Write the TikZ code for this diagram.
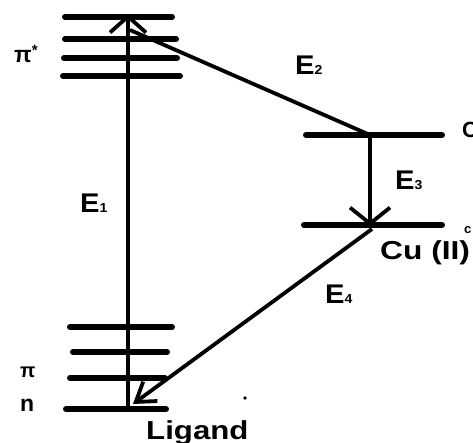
\documentclass[tikz,border=0pt]{standalone}
\usepackage{fontspec}
\setmainfont{Liberation Sans}
\usetikzlibrary{arrows.meta}
\begin{document}
\begin{tikzpicture}[x=1pt,y=-1pt,
  level/.style={line width=6pt,line cap=round},
  trans/.style={line width=3.8pt},
  lbl/.style={inner sep=0pt,anchor=base west,font=\bfseries},
  bigbarb/.style={-{Straight Barb[length=16pt,width=36pt]}},
  smallbarb/.style={-{Straight Barb[length=18pt,width=24pt]}}]
\useasboundingbox (0,0) rectangle (473,443);
\clip (0,0) rectangle (473,443);

% ligand pi* levels
\draw[level] (65,17) -- (172,17);
\draw[level] (65,39) -- (176,39);
\draw[level] (64,58) -- (177,58);
\draw[level] (63,76) -- (180,76);

% ligand pi and n levels
\draw[level] (70,327) -- (172,327);
\draw[level] (73,352) -- (167,352);
\draw[level] (70,378) -- (165,378);
\draw[level] (66,409) -- (166,409);

% Cu(II) levels
\draw[level] (306,135) -- (442,135);
\draw[level] (304,225) -- (442,225);

% anchor points on the levels
\coordinate (nbot) at (128,409);
\coordinate (pitop) at (128,14);
\coordinate (pistart) at (130,30);
\coordinate (cuup) at (370,135);
\coordinate (cudown) at (370,226);
\coordinate (cudownL) at (372,229);
\coordinate (ntip) at (133,404);

% transitions
\draw[trans,bigbarb] (nbot) -- (pitop);
\draw[trans] (pistart) -- (cuup);
\draw[trans,-{Straight Barb[length=16pt,width=40pt]}] (cuup) -- (cudown);
\draw[trans,smallbarb] (cudownL) -- (ntip);

% labels
\node[lbl] (lpistar) at (14,63) {\fontsize{23}{23}\selectfont π\raisebox{7pt}{\fontsize{15}{15}\selectfont *}};
\node[lbl] (lpi) at (20,377) {\fontsize{20}{20}\selectfont π};
\node[lbl] (ln) at (20,411) {\fontsize{23}{23}\selectfont n};
\node[lbl] (le1) at (80,213) {\scalebox{1.08}[1]{\fontsize{27}{27}\selectfont E\fontsize{13}{13}\selectfont 1}};
\node[lbl] (le2) at (295,75) {\scalebox{1.08}[1]{\fontsize{27}{27}\selectfont E\fontsize{13}{13}\selectfont 2}};
\node[lbl] (le3) at (395,190) {\scalebox{1.08}[1]{\fontsize{27}{27}\selectfont E\fontsize{13}{13}\selectfont 3}};
\node[lbl] (le4) at (325,303) {\scalebox{1.08}[1]{\fontsize{27}{27}\selectfont E\fontsize{13}{13}\selectfont 4}};
\node[lbl] (lcu) at (380,260) {\scalebox{1.22}[1]{\fontsize{26}{26}\selectfont Cu (II)}};
\node[lbl] (llig) at (146,439) {\scalebox{1.2}[1]{\fontsize{26}{26}\selectfont Ligand}};
\node[lbl] (lc1) at (462,138) {\fontsize{22}{22}\selectfont C};
\node[lbl] (lc2) at (464,234) {\fontsize{13}{13}\selectfont c};

% stray mark
\fill (245,398) circle (1.8pt);
\end{tikzpicture}
\end{document}
